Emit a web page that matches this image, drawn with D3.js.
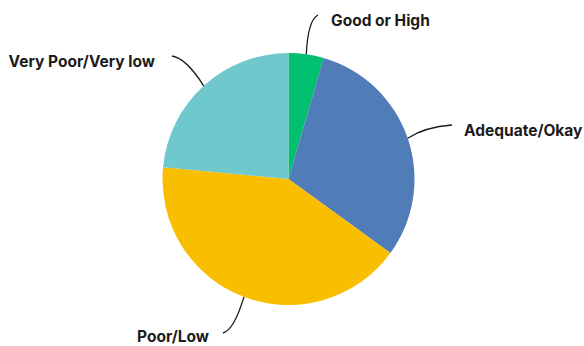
<!DOCTYPE html>
<html>
<head>
<meta charset="utf-8">
<script src="https://cdn.jsdelivr.net/npm/d3@7"></script>
<style>
  html, body { margin: 0; padding: 0; background: #fff; }
  svg { display: block; }
  .lbl { font-family: Inter, "Open Sans", sans-serif; font-weight: 700; font-size: 15.5px; fill: #1b1b1b; }
</style>
</head>
<body>
<svg id="chart" width="584" height="346"></svg>
<script>
// Share of responses per rating (percent)
const categories = ["Good or High", "Adequate/Okay", "Poor/Low", "Very Poor/Very low"];
const values = [4.5, 30.5, 41.5, 23.5];
const colors = ["#00bf6f", "#507cb8", "#f9be00", "#6fc8cc"];

// Label placement: text anchor point, anchor side, and leader-line control / end points
const labelPos = [
  { x: 331, y: 26, anchor: "start", cx: 308, cy: 20, ex: 318, ey: 15 },
  { x: 464, y: 136, anchor: "start", cx: 425, cy: 127, ex: 452, ey: 125 },
  { x: 137, y: 342, anchor: "start", cx: 234, cy: 330, ex: 223, ey: 333 },
  { x: 155, y: 67, anchor: "end", cx: 186, cy: 58, ex: 172, ey: 56 }
];

const width = 584, height = 346;
const cx = 288.5, cy = 179, radius = 126;

const svg = d3.select("#chart");
const g = svg.append("g").attr("transform", `translate(${cx},${cy})`);

const pie = d3.pie().sort(null).value(d => d.value);
const data = pie(categories.map((c, i) => ({ name: c, value: values[i], color: colors[i], pos: labelPos[i] })));

const arc = d3.arc().innerRadius(0).outerRadius(radius);

g.selectAll("path.slice")
  .data(data)
  .join("path")
  .attr("class", "slice")
  .attr("d", arc)
  .attr("fill", d => d.data.color);

// Leader lines from the slice's outer edge to its label
svg.selectAll("path.leader")
  .data(data)
  .join("path")
  .attr("class", "leader")
  .attr("fill", "none")
  .attr("stroke", "#1b1b1b")
  .attr("stroke-width", 1.3)
  .attr("d", d => {
    const a = (d.startAngle + d.endAngle) / 2;
    const sx = cx + radius * Math.sin(a);
    const sy = cy - radius * Math.cos(a);
    const p = d3.path();
    p.moveTo(sx, sy);
    p.quadraticCurveTo(d.data.pos.cx, d.data.pos.cy, d.data.pos.ex, d.data.pos.ey);
    return p.toString();
  });

svg.selectAll("text.lbl")
  .data(data)
  .join("text")
  .attr("class", "lbl")
  .attr("x", d => d.data.pos.x)
  .attr("y", d => d.data.pos.y)
  .attr("text-anchor", d => d.data.pos.anchor)
  .text(d => d.data.name);
</script>
</body>
</html>
